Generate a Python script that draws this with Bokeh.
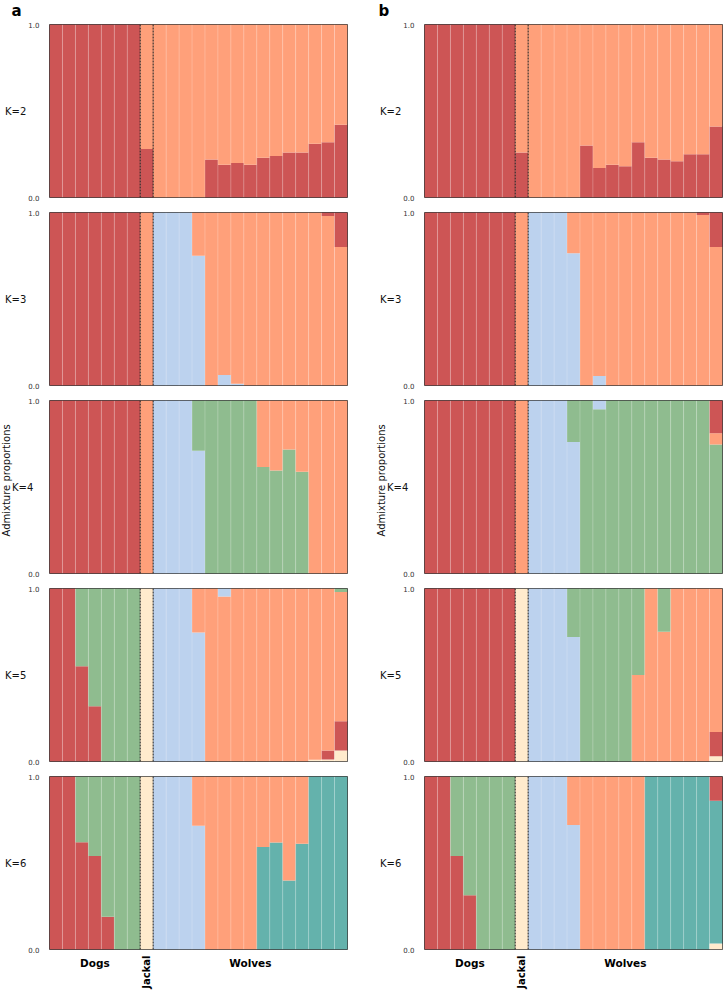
import math
from bokeh.plotting import figure
from bokeh.models import Range1d, Span, ColumnDataSource, Title
from bokeh.layouts import column, row
from bokeh.embed import file_html
from bokeh.resources import INLINE

# ---------------- data ----------------
GROUP_NAMES = ["Dogs", "Jackal", "Wolves"]
GROUP_SIZES = [7, 1, 15]
K_LABELS = ["K=2", "K=3", "K=4", "K=5", "K=6"]
PANEL_LETTERS = ["a", "b"]
Y_TICKS = [0, 1]
Y_TICK_LABELS = ["0.0", "1.0"]
Y_LABEL = "Admixture proportions"

COLORS = {
    "R": "#CD5555",  # red
    "O": "#FFA07A",  # salmon
    "B": "#BCD2EE",  # light blue
    "G": "#8FBC8F",  # green
    "C": "#FFEBCD",  # cream
    "T": "#64B2AC",  # teal
}

# each individual: list of (cluster, proportion), bottom -> top
A_K2 = [
    [("R", 1.0)], [("R", 1.0)], [("R", 1.0)], [("R", 1.0)], [("R", 1.0)], [("R", 1.0)], [("R", 1.0)],
    [("R", 0.28), ("O", 0.72)],
    [("O", 1.0)], [("O", 1.0)], [("O", 1.0)], [("O", 1.0)],
    [("R", 0.22), ("O", 0.78)], [("R", 0.19), ("O", 0.81)], [("R", 0.20), ("O", 0.80)],
    [("R", 0.19), ("O", 0.81)], [("R", 0.23), ("O", 0.77)], [("R", 0.24), ("O", 0.76)],
    [("R", 0.26), ("O", 0.74)], [("R", 0.26), ("O", 0.74)], [("R", 0.31), ("O", 0.69)],
    [("R", 0.32), ("O", 0.68)], [("R", 0.42), ("O", 0.58)],
]
B_K2 = [
    [("R", 1.0)], [("R", 1.0)], [("R", 1.0)], [("R", 1.0)], [("R", 1.0)], [("R", 1.0)], [("R", 1.0)],
    [("R", 0.26), ("O", 0.74)],
    [("O", 1.0)], [("O", 1.0)], [("O", 1.0)], [("O", 1.0)],
    [("R", 0.30), ("O", 0.70)], [("R", 0.17), ("O", 0.83)], [("R", 0.19), ("O", 0.81)],
    [("R", 0.18), ("O", 0.82)], [("R", 0.32), ("O", 0.68)], [("R", 0.23), ("O", 0.77)],
    [("R", 0.22), ("O", 0.78)], [("R", 0.21), ("O", 0.79)], [("R", 0.25), ("O", 0.75)],
    [("R", 0.25), ("O", 0.75)], [("R", 0.41), ("O", 0.59)],
]
A_K3 = [
    [("R", 1.0)], [("R", 1.0)], [("R", 1.0)], [("R", 1.0)], [("R", 1.0)], [("R", 1.0)], [("R", 1.0)],
    [("O", 1.0)],
    [("B", 1.0)], [("B", 1.0)], [("B", 1.0)], [("B", 0.75), ("O", 0.25)], [("O", 1.0)],
    [("B", 0.06), ("O", 0.94)], [("B", 0.01), ("O", 0.99)],
    [("O", 1.0)], [("O", 1.0)], [("O", 1.0)], [("O", 1.0)], [("O", 1.0)], [("O", 1.0)],
    [("O", 0.98), ("R", 0.02)], [("O", 0.80), ("R", 0.20)],
]
B_K3 = [
    [("R", 1.0)], [("R", 1.0)], [("R", 1.0)], [("R", 1.0)], [("R", 1.0)], [("R", 1.0)], [("R", 1.0)],
    [("O", 1.0)],
    [("B", 1.0)], [("B", 1.0)], [("B", 1.0)], [("B", 0.765), ("O", 0.235)], [("O", 1.0)],
    [("B", 0.055), ("O", 0.945)],
    [("O", 1.0)], [("O", 1.0)], [("O", 1.0)], [("O", 1.0)], [("O", 1.0)], [("O", 1.0)], [("O", 1.0)],
    [("O", 0.985), ("R", 0.015)], [("O", 0.80), ("R", 0.20)],
]
A_K4 = [
    [("R", 1.0)], [("R", 1.0)], [("R", 1.0)], [("R", 1.0)], [("R", 1.0)], [("R", 1.0)], [("R", 1.0)],
    [("O", 1.0)],
    [("B", 1.0)], [("B", 1.0)], [("B", 1.0)], [("B", 0.71), ("G", 0.29)],
    [("G", 1.0)], [("G", 1.0)], [("G", 1.0)], [("G", 1.0)],
    [("G", 0.615), ("O", 0.385)], [("G", 0.595), ("O", 0.405)],
    [("G", 0.717), ("O", 0.283)], [("G", 0.588), ("O", 0.412)],
    [("O", 1.0)], [("O", 1.0)], [("O", 1.0)],
]
B_K4 = [
    [("R", 1.0)], [("R", 1.0)], [("R", 1.0)], [("R", 1.0)], [("R", 1.0)], [("R", 1.0)], [("R", 1.0)],
    [("O", 1.0)],
    [("B", 1.0)], [("B", 1.0)], [("B", 1.0)], [("B", 0.76), ("G", 0.24)], [("G", 1.0)],
    [("G", 0.95), ("B", 0.05)],
    [("G", 1.0)], [("G", 1.0)], [("G", 1.0)], [("G", 1.0)], [("G", 1.0)], [("G", 1.0)],
    [("G", 1.0)], [("G", 1.0)],
    [("G", 0.745), ("O", 0.065), ("R", 0.19)],
]
A_K5 = [
    [("R", 1.0)], [("R", 1.0)], [("R", 0.55), ("G", 0.45)], [("R", 0.32), ("G", 0.68)],
    [("G", 1.0)], [("G", 1.0)], [("G", 1.0)],
    [("C", 1.0)],
    [("B", 1.0)], [("B", 1.0)], [("B", 1.0)], [("B", 0.746), ("O", 0.254)], [("O", 1.0)],
    [("O", 0.954), ("B", 0.046)],
    [("O", 1.0)], [("O", 1.0)], [("O", 1.0)], [("O", 1.0)], [("O", 1.0)], [("O", 1.0)],
    [("C", 0.01), ("O", 0.99)],
    [("C", 0.012), ("R", 0.052), ("O", 0.936)],
    [("C", 0.064), ("R", 0.168), ("O", 0.748), ("G", 0.02)],
]
B_K5 = [
    [("R", 1.0)], [("R", 1.0)], [("R", 1.0)], [("R", 1.0)], [("R", 1.0)], [("R", 1.0)], [("R", 1.0)],
    [("C", 1.0)],
    [("B", 1.0)], [("B", 1.0)], [("B", 1.0)], [("B", 0.72), ("G", 0.28)],
    [("G", 1.0)], [("G", 1.0)], [("G", 1.0)], [("G", 1.0)],
    [("O", 0.50), ("G", 0.50)], [("O", 1.0)], [("O", 0.75), ("G", 0.25)],
    [("O", 1.0)], [("O", 1.0)], [("O", 1.0)],
    [("C", 0.03), ("R", 0.14), ("O", 0.83)],
]
A_K6 = [
    [("R", 1.0)], [("R", 1.0)], [("R", 0.62), ("G", 0.38)], [("R", 0.54), ("G", 0.46)],
    [("R", 0.19), ("G", 0.81)], [("G", 1.0)], [("G", 1.0)],
    [("C", 1.0)],
    [("B", 1.0)], [("B", 1.0)], [("B", 1.0)], [("B", 0.715), ("O", 0.285)],
    [("O", 1.0)], [("O", 1.0)], [("O", 1.0)], [("O", 1.0)],
    [("T", 0.593), ("O", 0.407)], [("T", 0.618), ("O", 0.382)],
    [("T", 0.399), ("O", 0.601)], [("T", 0.611), ("O", 0.389)],
    [("T", 1.0)], [("T", 1.0)], [("T", 1.0)],
]
B_K6 = [
    [("R", 1.0)], [("R", 1.0)], [("R", 0.54), ("G", 0.46)], [("R", 0.314), ("G", 0.686)],
    [("G", 1.0)], [("G", 1.0)], [("G", 1.0)],
    [("C", 1.0)],
    [("B", 1.0)], [("B", 1.0)], [("B", 1.0)], [("B", 0.72), ("O", 0.28)],
    [("O", 1.0)], [("O", 1.0)], [("O", 1.0)], [("O", 1.0)], [("O", 1.0)],
    [("T", 1.0)], [("T", 1.0)], [("T", 1.0)], [("T", 1.0)], [("T", 1.0)],
    [("C", 0.035), ("T", 0.825), ("R", 0.14)],
]

PANELS = [[A_K2, A_K3, A_K4, A_K5, A_K6], [B_K2, B_K3, B_K4, B_K5, B_K6]]

# ---------------- layout / style ----------------
FONT = "DejaVu Sans"
FRAME_W, FRAME_H = 298, 173
BORDER_L = 49
BORDER_R = [28, 1]
TOP_STRIP_H = 20
BOTTOM_STRIP_H = 37
N = sum(GROUP_SIZES)
PPU_X = FRAME_W / N
FIG_W = [BORDER_L + FRAME_W + BORDER_R[0], BORDER_L + FRAME_W + BORDER_R[1]]


def x_range_full(col):
    # data range spanning the whole figure width with the same scale as the panels
    return Range1d(-0.5 - BORDER_L / PPU_X, N - 0.5 + BORDER_R[col] / PPU_X)


def bare_figure(width, height, x_range, y_range):
    p = figure(frame_width=width, frame_height=height, min_border=0,
               x_range=x_range, y_range=y_range, x_axis_type=None, y_axis_type=None,
               output_backend="svg", toolbar_location=None, tools="")
    p.title.visible = False
    p.outline_line_color = None
    p.xgrid.visible = False
    p.ygrid.visible = False
    return p


def make_top_strip(col):
    p = bare_figure(FIG_W[col], TOP_STRIP_H, x_range_full(col), Range1d(-TOP_STRIP_H, 0))
    lx = -0.5 - (38 if col == 0 else 46) / PPU_X
    p.text(x=[lx], y=[-TOP_STRIP_H / 2], text=[PANEL_LETTERS[col]], text_font={"value": FONT},
           text_font_size="15px", text_font_style="bold", text_color="#000000",
           text_align="left", text_baseline="middle")
    return p


def make_bottom_strip(col):
    p = bare_figure(FIG_W[col], BOTTOM_STRIP_H, x_range_full(col), Range1d(-BOTTOM_STRIP_H, 0))
    start = 0
    hx, hname, vx, vname = [], [], [], []
    for name, size in zip(GROUP_NAMES, GROUP_SIZES):
        cx = start + (size - 1) / 2
        if size == 1:
            vx.append(cx)
            vname.append(name)
        else:
            hx.append(cx)
            hname.append(name)
        start += size
    p.text(x=hx, y=[-3] * len(hx), text=hname, text_font={"value": FONT},
           text_font_size="10.5px", text_font_style="bold", text_color="#000000",
           text_align="center", text_baseline="top")
    p.text(x=vx, y=[-2] * len(vx), text=vname, angle=math.pi / 2, text_font={"value": FONT},
           text_font_size="10px", text_font_style="bold", text_color="#000000",
           text_align="right", text_baseline="middle")
    return p


def make_panel(data, col, r):
    p = figure(
        frame_width=FRAME_W, frame_height=FRAME_H,
        min_border_left=BORDER_L, min_border_right=BORDER_R[col],
        min_border_top=(4 if r == 0 else 7), min_border_bottom=(4 if r == 4 else 8),
        x_range=Range1d(-0.5, N - 0.5), y_range=Range1d(0, 1),
        output_backend="svg", toolbar_location=None, tools="",
    )
    p.title.visible = False
    p.background_fill_color = "white"
    p.border_fill_color = "white"
    p.outline_line_color = "#3c3c3c"
    p.outline_line_width = 1
    p.xgrid.visible = False
    p.ygrid.visible = False
    p.xaxis.visible = False

    ax = p.yaxis[0]
    ax.ticker = Y_TICKS
    ax.major_label_overrides = {t: s for t, s in zip(Y_TICKS, Y_TICK_LABELS)}
    ax.major_label_text_font = FONT
    ax.major_label_text_font_size = "7px"
    ax.major_label_text_color = "#333333"
    ax.major_tick_line_color = None
    ax.minor_tick_line_color = None
    ax.major_tick_out = 0
    ax.major_tick_in = 0
    ax.axis_line_color = None
    ax.major_label_standoff = 10
    ax.axis_label = K_LABELS[r]
    ax.axis_label_orientation = "horizontal"
    ax.axis_label_text_font = FONT
    ax.axis_label_text_font_size = "10px"
    ax.axis_label_text_font_style = "normal"
    ax.axis_label_text_color = "#111111"
    ax.axis_label_standoff = (-8 if r == 2 else -1)

    if r == 2:
        p.add_layout(Title(text=Y_LABEL, align="left", standoff=-4, offset=37,
                           text_font=FONT, text_font_size="10px", text_font_style="normal",
                           text_color="#111111"), "left")

    xs, bottoms, tops, colors = [], [], [], []
    for i, segs in enumerate(data):
        cum = 0.0
        for comp, frac in segs:
            xs.append(i)
            bottoms.append(cum)
            tops.append(cum + frac)
            colors.append(COLORS[comp])
            cum += frac
    src = ColumnDataSource(dict(x=xs, bottom=bottoms, top=tops, color=colors))
    p.vbar(x="x", bottom="bottom", top="top", width=1.0, source=src,
           fill_color="color", line_color=None)

    bounds = []
    acc = 0
    for s in GROUP_SIZES[:-1]:
        acc += s
        bounds.append(acc - 0.5)
    sep_x = [i + 0.5 for i in range(N - 1) if (i + 0.5) not in bounds]
    p.segment(x0=sep_x, y0=[0] * len(sep_x), x1=sep_x, y1=[1] * len(sep_x),
              line_color="white", line_alpha=0.2, line_width=1)
    for b in bounds:
        p.add_layout(Span(location=b, dimension="height", line_color="#1a1a1a",
                          line_dash="2 1", line_width=1))
    return p


rows = [row(make_top_strip(0), make_top_strip(1))]
for r in range(5):
    rows.append(row(make_panel(PANELS[0][r], 0, r), make_panel(PANELS[1][r], 1, r)))
rows.append(row(make_bottom_strip(0), make_bottom_strip(1)))
layout = column(*rows)

open("out.html", "w").write(file_html(layout, INLINE))
